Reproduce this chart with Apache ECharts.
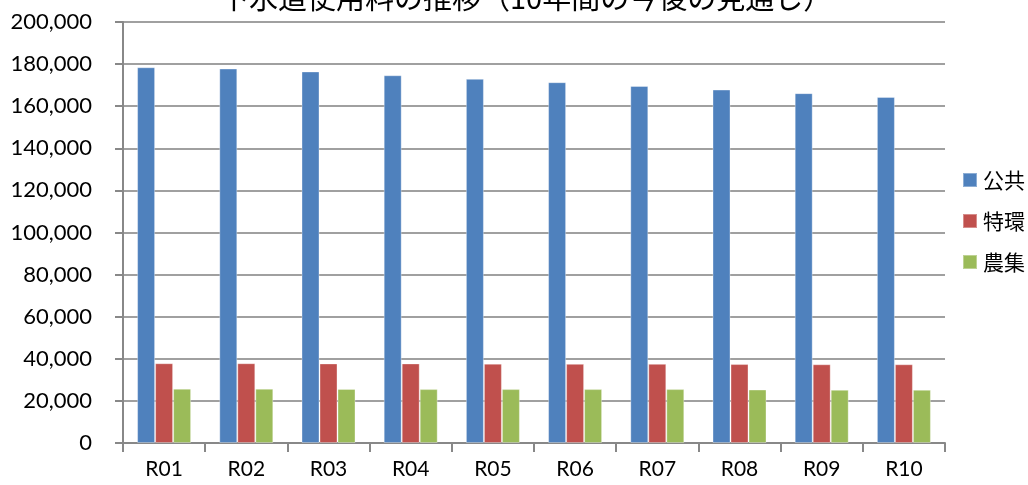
<!DOCTYPE html>
<html>
<head>
<meta charset="utf-8">
<script src="https://cdn.jsdelivr.net/npm/echarts@6/dist/echarts.min.js"></script>
<style>
  html, body { margin: 0; padding: 0; background: #fff; }
  #chart { width: 1028px; height: 485px; }
</style>
</head>
<body>
<div id="chart"></div>
<script>
const categories = ['R01', 'R02', 'R03', 'R04', 'R05', 'R06', 'R07', 'R08', 'R09', 'R10'];
const koukyou = [178500, 177900, 176500, 174700, 173000, 171400, 169600, 167900, 166200, 164400];
const tokkan = [37900, 37900, 37800, 37800, 37700, 37600, 37600, 37500, 37400, 37400];
const noushuu = [25800, 25800, 25700, 25600, 25600, 25600, 25600, 25400, 25300, 25300];
const seriesNames = ['公共', '特環', '農集'];
const colors = ['#4F81BD', '#C0504D', '#9BBB59'];

const font = 'Lato, "Noto Sans CJK JP", sans-serif';
const myChart = echarts.init(document.getElementById('chart'));

const option = {
  animation: false,
  color: colors,
  title: {
    text: '下水道使用料の推移（10年間の今後の見通し）',
    left: 215,
    top: -22,
    textStyle: {
      fontFamily: '"Noto Sans CJK JP", sans-serif',
      fontSize: 29,
      fontWeight: 'normal',
      color: '#000',
    },
  },
  legend: {
    orient: 'vertical',
    left: 957,
    top: 163,
    itemWidth: 14,
    itemHeight: 14,
    itemGap: 17,
    icon: 'rect',
    textStyle: {
      fontFamily: '"Noto Sans CJK JP", sans-serif',
      fontSize: 21,
      color: '#000',
      lineHeight: 24,
      padding: [0, 0, 0, 1],
    },
    data: seriesNames,
  },
  grid: {
    left: 123,
    right: 83,
    top: 22,
    bottom: 42,
  },
  xAxis: {
    type: 'category',
    data: categories,
    boundaryGap: true,
    axisLine: { lineStyle: { color: '#888', width: 2 } },
    axisTick: { show: true, length: 9, interval: 0, lineStyle: { color: '#888', width: 2 } },
    axisLabel: {
      fontFamily: font,
      fontSize: 21,
      color: '#000',
      margin: 16,
    },
  },
  yAxis: {
    type: 'value',
    min: 0,
    max: 200000,
    interval: 20000,
    axisLine: { show: true, lineStyle: { color: '#888', width: 2 } },
    axisTick: { show: true, length: 8, lineStyle: { color: '#888', width: 2 } },
    splitLine: { lineStyle: { color: '#A0A0A0', width: 2 } },
    axisLabel: {
      fontFamily: font,
      fontSize: 22,
      color: '#000',
      margin: 31,
      formatter: value => value.toLocaleString('en-US'),
    },
  },
  series: [
    { name: seriesNames[0], data: koukyou },
    { name: seriesNames[1], data: tokkan },
    { name: seriesNames[2], data: noushuu },
  ].map((s, i) => ({
    name: s.name,
    type: 'bar',
    data: s.data,
    barWidth: 18,
    barGap: '0%',
    itemStyle: {
      color: colors[i],
      borderColor: 'rgba(255,255,255,0.35)',
      borderWidth: 1,
    },
  })),
};

myChart.setOption(option);
window.addEventListener('resize', myChart.resize);
</script>
</body>
</html>
